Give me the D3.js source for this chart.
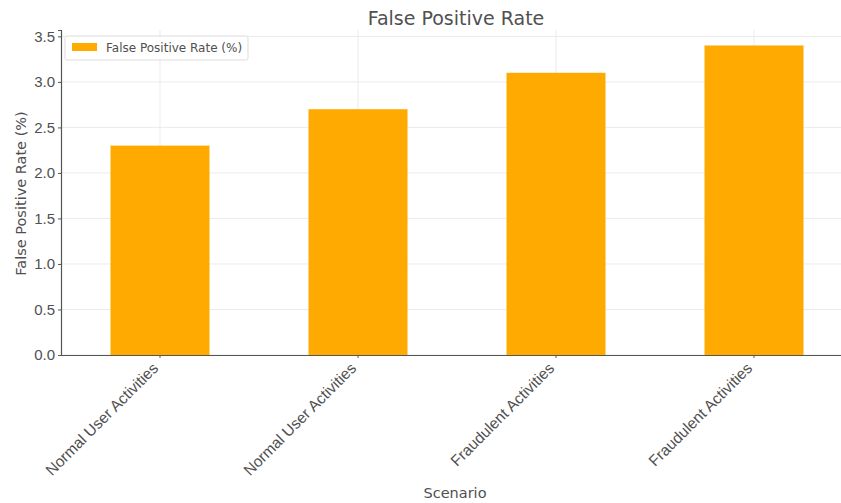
<!DOCTYPE html>
<html>
<head>
<meta charset="utf-8">
<script src="https://cdn.jsdelivr.net/npm/d3@7"></script>
<style>
  body { margin: 0; background: #fff; }
  svg { display: block; font-family: "DejaVu Sans", sans-serif; }
</style>
</head>
<body>
<svg id="chart" width="841" height="503"></svg>
<script>
// Scenario categories and false positive rates (%)
const categories = ["Normal User Activities", "Normal User Activities", "Fraudulent Activities", "Fraudulent Activities"];
const rates = [2.3, 2.7, 3.1, 3.4];
const yTicks = [0.0, 0.5, 1.0, 1.5, 2.0, 2.5, 3.0, 3.5];

const svg = d3.select("#chart");
const margin = { left: 61, top: 30, right: -12, bottom: 148 };
const W = 841, H = 503;
const x0 = margin.left, x1 = W - margin.right;
const y0 = H - margin.bottom, y1 = margin.top;

const idx = categories.map((_, i) => i);
const x = d3.scaleBand().domain(idx).range([x0, x1]).paddingInner(0.5).paddingOuter(0.25);
const y = d3.scaleLinear().domain([0, 3.57]).range([y0, y1]);

const textColor = "#505050";
const gridColor = "#ebebeb";

// grid
svg.append("g").selectAll("line.h").data(yTicks).join("line")
  .attr("x1", x0).attr("x2", x1)
  .attr("y1", d => y(d)).attr("y2", d => y(d))
  .attr("stroke", gridColor).attr("stroke-width", 1);
svg.append("g").selectAll("line.v").data(idx).join("line")
  .attr("x1", d => x(d) + x.bandwidth() / 2).attr("x2", d => x(d) + x.bandwidth() / 2)
  .attr("y1", y0).attr("y2", y1)
  .attr("stroke", gridColor).attr("stroke-width", 1);

// bars
svg.append("g").selectAll("rect").data(rates).join("rect")
  .attr("x", (d, i) => x(i))
  .attr("width", x.bandwidth())
  .attr("y", d => y(d))
  .attr("height", d => y0 - y(d))
  .attr("fill", "#ffaa00");

// y axis
const yAxis = d3.axisLeft(y).tickValues(yTicks).tickFormat(d3.format(".1f")).tickSize(3).tickPadding(3);
const gy = svg.append("g").attr("transform", `translate(${x0},0)`).call(yAxis);
gy.select(".domain").attr("stroke", "#555").attr("stroke-width", 1.2);
gy.selectAll(".tick line").attr("stroke", "#555");
gy.selectAll(".tick text").attr("fill", textColor).attr("font-size", 15);

// x axis
const xAxis = d3.axisBottom(x).tickFormat(i => categories[i]).tickSize(3).tickPadding(6).tickSizeOuter(0);
const gx = svg.append("g").attr("transform", `translate(0,${y0})`).call(xAxis);
gx.select(".domain").attr("stroke", "#555").attr("stroke-width", 1.2);
gx.selectAll(".tick line").attr("stroke", "#555");
gx.selectAll(".tick text")
  .attr("fill", textColor).attr("font-size", 15.5)
  .attr("text-anchor", "end")
  .attr("dy", "0.35em")
  .attr("transform", "translate(-11,4) rotate(-45)");

// title and axis labels
svg.append("text").attr("x", 456).attr("y", 25).attr("text-anchor", "middle")
  .attr("font-size", 19).attr("fill", textColor).text("False Positive Rate");
svg.append("text").attr("x", 455).attr("y", 498).attr("text-anchor", "middle")
  .attr("font-size", 14.5).attr("fill", textColor).text("Scenario");
svg.append("text").attr("transform", `translate(26,${(y0 + y1) / 2 + 1}) rotate(-90)`)
  .attr("text-anchor", "middle").attr("font-size", 14.5).attr("fill", textColor)
  .text("False Positive Rate (%)");

// legend
const lg = svg.append("g").attr("transform", "translate(65,36)");
lg.append("rect").attr("width", 183).attr("height", 24).attr("rx", 2)
  .attr("fill", "#fff").attr("fill-opacity", 0.8).attr("stroke", "#ddd");
lg.append("rect").attr("x", 7).attr("y", 7).attr("width", 25).attr("height", 8).attr("fill", "#ffaa00");
lg.append("text").attr("x", 41).attr("y", 16).attr("font-size", 12).attr("fill", textColor)
  .text("False Positive Rate (%)");
</script>
</body>
</html>
